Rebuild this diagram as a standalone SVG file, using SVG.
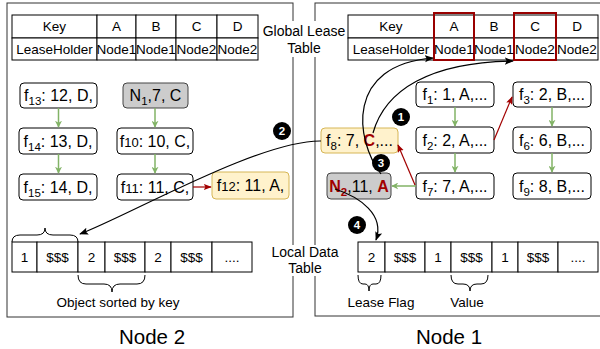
<svg xmlns="http://www.w3.org/2000/svg" width="600" height="349" viewBox="0 0 600 349">
<style>
text{font-family:"Liberation Sans",Arial,sans-serif;fill:#000}
.tb{font-size:13.5px;text-anchor:middle}
.nt{font-size:16px;text-anchor:middle}
.lb{font-size:14px;text-anchor:middle}
.big{font-size:20.5px;text-anchor:middle}
.cell{fill:#fff;stroke:#000;stroke-width:1}
.node{fill:#fff;stroke:#000;stroke-width:1}
.gray{fill:#cccccc;stroke:#444;stroke-width:1}
.yel{fill:#fff2cc;stroke:#d6b656;stroke-width:1}
.frame{fill:none;stroke:#333;stroke-width:1}
.g{stroke:#82b366;stroke-width:1.5;fill:none}
.r{stroke:#a20000;stroke-width:1.2;fill:none}
.k{stroke:#000;stroke-width:1.2;fill:none}
.brace{stroke:#000;stroke-width:1;fill:none}
.red{fill:#a20000;font-weight:bold}
.num{font-size:11.5px;font-weight:bold;fill:#fff;text-anchor:middle}
.rbox{fill:none;stroke:#990000;stroke-width:2}
</style>
<defs>
<marker id="ga" viewBox="0 0 10 10" refX="9" refY="5" markerWidth="7" markerHeight="7" orient="auto" markerUnits="userSpaceOnUse">
<path d="M0,0 L10,5 L0,10 L3,5 z" fill="#82b366"/>
</marker>
<marker id="ra" viewBox="0 0 10 10" refX="9" refY="5" markerWidth="8" markerHeight="8" orient="auto" markerUnits="userSpaceOnUse">
<path d="M0,1 L10,5 L0,9 L2,5 z" fill="#a20000"/>
</marker>
<marker id="ka" viewBox="0 0 10 10" refX="9" refY="5" markerWidth="9" markerHeight="9" orient="auto" markerUnits="userSpaceOnUse">
<path d="M0,1 L10,5 L0,9 L2,5 z" fill="#000"/>
</marker>
</defs>
<rect x="0" y="0" width="600" height="349" fill="#fff"/>

<g id="frames">
<rect class="frame" x="7" y="3" width="286" height="314"/>
<rect class="frame" x="315" y="3" width="300" height="313"/>
</g>

<g id="labels">
<rect x="262" y="21" width="84" height="36" fill="#fff"/>
<text class="lb" x="304" y="36">Global Lease</text>
<text class="lb" x="304" y="53">Table</text>
<rect x="268" y="245" width="74" height="31" fill="#fff"/>
<text class="lb" x="305" y="257">Local Data</text>
<text class="lb" x="305" y="273">Table</text>
<text class="big" x="152" y="344">Node 2</text>
<text class="big" x="449" y="344">Node 1</text>
<text class="tb" x="118" y="307">Object sorted by key</text>
<text class="tb" x="381" y="307">Lease Flag</text>
<text class="tb" x="467" y="307">Value</text>
</g>

<g id="global-table-node2">
<rect class="cell" x="12" y="15" width="85" height="23"/>
<rect class="cell" x="97" y="15" width="39" height="23"/>
<rect class="cell" x="136" y="15" width="40" height="23"/>
<rect class="cell" x="176" y="15" width="41" height="23"/>
<rect class="cell" x="217" y="15" width="41" height="23"/>
<rect class="cell" x="12" y="38" width="85" height="22"/>
<rect class="cell" x="97" y="38" width="39" height="22"/>
<rect class="cell" x="136" y="38" width="40" height="22"/>
<rect class="cell" x="176" y="38" width="41" height="22"/>
<rect class="cell" x="217" y="38" width="41" height="22"/>
<text class="tb" x="54.5" y="31">Key</text>
<text class="tb" x="116.5" y="31">A</text>
<text class="tb" x="156" y="31">B</text>
<text class="tb" x="196.5" y="31">C</text>
<text class="tb" x="237.5" y="31">D</text>
<text class="tb" x="54.5" y="54">LeaseHolder</text>
<text class="tb" x="116.5" y="54">Node1</text>
<text class="tb" x="156" y="54">Node1</text>
<text class="tb" x="196.5" y="54">Node2</text>
<text class="tb" x="237.5" y="54">Node2</text>
</g>

<g id="global-table-node1">
<rect class="cell" x="348" y="15" width="86" height="23"/>
<rect class="cell" x="434" y="15" width="40" height="23"/>
<rect class="cell" x="474" y="15" width="40" height="23"/>
<rect class="cell" x="514" y="15" width="42" height="23"/>
<rect class="cell" x="556" y="15" width="42" height="23"/>
<rect class="cell" x="348" y="38" width="86" height="22"/>
<rect class="cell" x="434" y="38" width="40" height="22"/>
<rect class="cell" x="474" y="38" width="40" height="22"/>
<rect class="cell" x="514" y="38" width="42" height="22"/>
<rect class="cell" x="556" y="38" width="42" height="22"/>
<rect class="rbox" x="434" y="13" width="40" height="47"/>
<rect class="rbox" x="514" y="13" width="42" height="47"/>
<text class="tb" x="391" y="31">Key</text>
<text class="tb" x="454" y="31">A</text>
<text class="tb" x="494" y="31">B</text>
<text class="tb" x="535" y="31">C</text>
<text class="tb" x="577" y="31">D</text>
<text class="tb" x="391" y="54">LeaseHolder</text>
<text class="tb" x="454" y="54">Node1</text>
<text class="tb" x="494" y="54">Node1</text>
<text class="tb" x="535" y="54">Node2</text>
<text class="tb" x="577" y="54">Node2</text>
</g>

<g id="local-table-node2">
<rect class="cell" x="12" y="242" width="25" height="30"/>
<rect class="cell" x="37" y="242" width="41" height="30"/>
<rect class="cell" x="78" y="242" width="27" height="30"/>
<rect class="cell" x="105" y="242" width="40" height="30"/>
<rect class="cell" x="145" y="242" width="26" height="30"/>
<rect class="cell" x="171" y="242" width="41" height="30"/>
<rect class="cell" x="212" y="242" width="40" height="30"/>
<text class="tb" x="24.5" y="262">1</text>
<text class="tb" x="57.5" y="262">$$$</text>
<text class="tb" x="91.5" y="262">2</text>
<text class="tb" x="125" y="262">$$$</text>
<text class="tb" x="158" y="262">2</text>
<text class="tb" x="191.5" y="262">$$$</text>
<text class="tb" x="232" y="262">....</text>
</g>

<g id="local-table-node1">
<rect class="cell" x="358" y="242" width="27" height="30"/>
<rect class="cell" x="385" y="242" width="40" height="30"/>
<rect class="cell" x="425" y="242" width="26" height="30"/>
<rect class="cell" x="451" y="242" width="41" height="30"/>
<rect class="cell" x="492" y="242" width="26" height="30"/>
<rect class="cell" x="518" y="242" width="40" height="30"/>
<rect class="cell" x="558" y="242" width="40" height="30"/>
<text class="tb" x="371.5" y="262">2</text>
<text class="tb" x="405" y="262">$$$</text>
<text class="tb" x="438" y="262">1</text>
<text class="tb" x="471.5" y="262">$$$</text>
<text class="tb" x="505" y="262">1</text>
<text class="tb" x="538" y="262">$$$</text>
<text class="tb" x="578" y="262">....</text>
</g>

<g id="braces">
<path class="brace" d="M12,242 Q12,235 20,235 L37,235 Q45,235 45,228 Q45,235 53,235 L70,235 Q78,235 78,242"/>
<path class="brace" d="M78,275 Q78,284 86,284 L104,284 Q112,284 112,292 Q112,284 120,284 L137,284 Q145,284 145,275"/>
<path class="brace" d="M358,275 Q358,284 363,284 L365,284 Q369,284 369,291 Q369,284 373,284 L376,284 Q381,284 381,275"/>
<path class="brace" d="M451,275 Q451,284 458,284 L463,284 Q470,284 470,291 Q470,284 477,284 L481,284 Q488,284 488,275"/>
</g>

<g id="n-f13"><rect class="node" x="20" y="83" width="77" height="25" rx="4"/><text class="nt" x="58.5" y="101">f<tspan font-size="11.5" dy="4">13</tspan><tspan dy="-4">: 12, D,</tspan></text></g>
<g id="n-N1"><rect class="gray" x="123" y="83" width="65" height="25" rx="4"/><text class="nt" x="155.5" y="101">N<tspan font-size="11.5" dy="4">1</tspan><tspan dy="-4">,7, C</tspan></text></g>
<g id="n-f14"><rect class="node" x="19" y="128" width="78" height="26" rx="4"/><text class="nt" x="58" y="146.5">f<tspan font-size="11.5" dy="4">14</tspan><tspan dy="-4">: 13, D,</tspan></text></g>
<g id="n-f10"><rect class="node" x="117" y="128" width="76" height="26" rx="4"/><text class="nt" x="155" y="146.5">f<tspan font-size="13">10</tspan>: 10, C,</text></g>
<g id="n-f15"><rect class="node" x="19" y="174" width="78" height="26" rx="4"/><text class="nt" x="58" y="192.5">f<tspan font-size="11.5" dy="4">15</tspan><tspan dy="-4">: 14, D,</tspan></text></g>
<g id="n-f11"><rect class="node" x="117" y="174" width="76" height="26" rx="4"/><text class="nt" x="155" y="192.5">f<tspan font-size="13">11</tspan>: 11, C,</text></g>
<g id="n-f12"><rect class="yel" x="212" y="172" width="77" height="27" rx="4"/><text class="nt" x="250.5" y="191">f<tspan font-size="13">12</tspan>: 11, A,</text></g>

<g id="n-f1"><rect class="node" x="416" y="82" width="78" height="25" rx="4"/><text class="nt" x="455" y="100">f<tspan font-size="11.5" dy="4">1</tspan><tspan dy="-4">: 1, A,...</tspan></text></g>
<g id="n-f3"><rect class="node" x="513" y="82" width="78" height="25" rx="4"/><text class="nt" x="552" y="100">f<tspan font-size="11.5" dy="4">3</tspan><tspan dy="-4">: 2, B,...</tspan></text></g>
<g id="n-f2"><rect class="node" x="416" y="127" width="78" height="26" rx="4"/><text class="nt" x="455" y="145.5">f<tspan font-size="11.5" dy="4">2</tspan><tspan dy="-4">: 2, A,...</tspan></text></g>
<g id="n-f6"><rect class="node" x="513" y="127" width="78" height="26" rx="4"/><text class="nt" x="552" y="145.5">f<tspan font-size="11.5" dy="4">6</tspan><tspan dy="-4">: 6, B,...</tspan></text></g>
<g id="n-f7"><rect class="node" x="416" y="173" width="78" height="26" rx="4"/><text class="nt" x="455" y="191.5">f<tspan font-size="11.5" dy="4">7</tspan><tspan dy="-4">: 7, A,...</tspan></text></g>
<g id="n-f9"><rect class="node" x="513" y="173" width="78" height="26" rx="4"/><text class="nt" x="552" y="191.5">f<tspan font-size="11.5" dy="4">9</tspan><tspan dy="-4">: 8, B,...</tspan></text></g>
<g id="n-f8"><rect class="yel" x="321" y="128" width="77" height="25" rx="4"/><text class="nt" x="359.5" y="146">f<tspan font-size="11.5" dy="4">8</tspan><tspan dy="-4">: 7, </tspan><tspan class="red">C</tspan>,...</text></g>
<g id="n-N2"><rect class="gray" x="327" y="173" width="64" height="26" rx="4"/><text class="nt" x="359" y="191.5"><tspan class="red">N</tspan><tspan class="red" font-size="11.5" dy="4">2</tspan><tspan dy="-4">,11, </tspan><tspan class="red">A</tspan></text></g>

<g id="connectors">
<line class="g" x1="58.5" y1="108" x2="58.5" y2="127" marker-end="url(#ga)"/>
<line class="g" x1="58.5" y1="154" x2="58.5" y2="173" marker-end="url(#ga)"/>
<line class="g" x1="155" y1="108" x2="155" y2="127" marker-end="url(#ga)"/>
<line class="g" x1="155" y1="154" x2="155" y2="173" marker-end="url(#ga)"/>
<line class="g" x1="455" y1="107" x2="455" y2="126" marker-end="url(#ga)"/>
<line class="g" x1="455" y1="153" x2="455" y2="172" marker-end="url(#ga)"/>
<line class="g" x1="552" y1="107" x2="552" y2="126" marker-end="url(#ga)"/>
<line class="g" x1="552" y1="153" x2="552" y2="172" marker-end="url(#ga)"/>
<line class="g" x1="416" y1="186" x2="392" y2="186" marker-end="url(#ga)"/>
<line class="r" x1="193" y1="187" x2="211" y2="187" marker-end="url(#ra)"/>
<line class="r" x1="494" y1="140" x2="512" y2="97" marker-end="url(#ra)"/>
<line class="r" x1="415" y1="185" x2="398" y2="145" marker-end="url(#ra)"/>
<path class="k" d="M321,141 C260,140 130,215 80,234" marker-end="url(#ka)"/>
<path class="k" d="M373,133 C385,90 430,62 513,61" marker-end="url(#ka)"/>
<path class="k" d="M381,174 C355,140 345,65 433,58" marker-end="url(#ka)"/>
<path class="k" d="M335,189 C360,197 385,215 376,240" marker-end="url(#ka)"/>
</g>

<g id="steps">
<circle cx="401" cy="117" r="9" fill="#000"/><text class="num" x="401" y="121">1</text>
<circle cx="282" cy="131" r="9" fill="#000"/><text class="num" x="282" y="135">2</text>
<circle cx="381" cy="163" r="9" fill="#000"/><text class="num" x="381" y="167">3</text>
<circle cx="357" cy="225" r="9" fill="#000"/><text class="num" x="357" y="229">4</text>
</g>
</svg>
